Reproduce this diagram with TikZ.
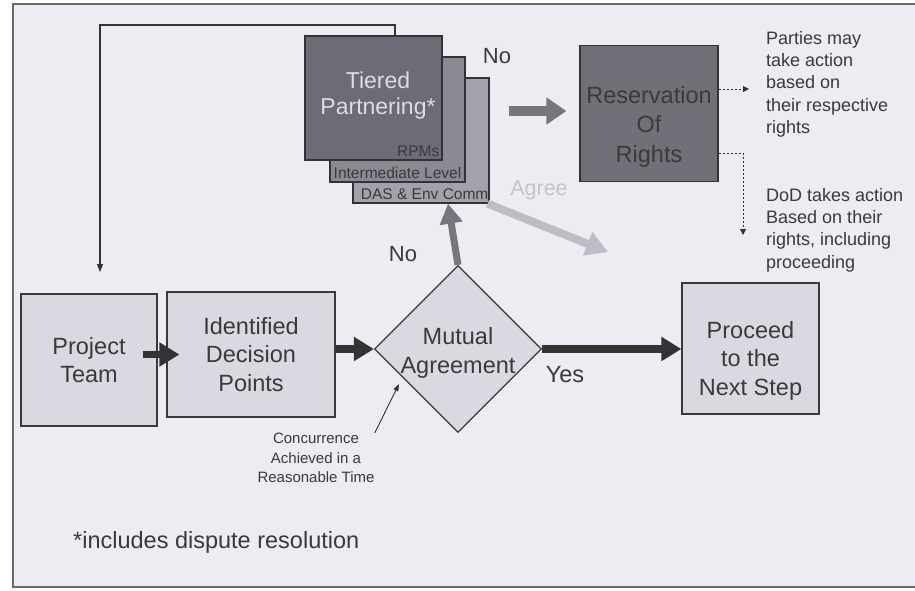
\documentclass[tikz,border=0pt]{standalone}
\usepackage{fontspec}
\setmainfont{Liberation Sans}
\usetikzlibrary{shapes.geometric,arrows.meta}
\definecolor{bgc}{HTML}{ECECF2}
\definecolor{boxfill}{HTML}{D9D9E1}
\definecolor{txt}{HTML}{3A3A3A}
\definecolor{framec}{HTML}{6A6A6A}
\definecolor{frontc}{HTML}{6C6C76}
\definecolor{midc}{HTML}{8A8A94}
\definecolor{backc}{HTML}{A2A2AC}
\definecolor{resc}{HTML}{707078}
\definecolor{adark}{HTML}{333333}
\definecolor{agray}{HTML}{76767E}
\definecolor{alight}{HTML}{BDBDC5}
\definecolor{tlight}{HTML}{DCDCE2}
\definecolor{agreec}{HTML}{C4C4CC}
\newcommand\fsbig{\fontsize{23.5}{28.5}\selectfont}
\newcommand\fsmed{\fontsize{18}{22.3}\selectfont}
\newcommand\fssmall{\fontsize{15.5}{19}\selectfont}
\newcommand\fsnote{\fontsize{15}{19.5}\selectfont}
\begin{document}
\begin{tikzpicture}[x=1pt,y=-1pt,
  lbox/.style={draw=txt, line width=1.2pt, fill=boxfill, text=txt, font=\fsbig, align=center, inner sep=0pt},
  dbox/.style={diamond, aspect=1, draw=txt, line width=1.2pt, fill=boxfill, inner sep=0pt, minimum width=167pt, minimum height=167pt},
  stackbox/.style={draw=adark, line width=1.2pt, inner sep=0pt},
  resbox/.style={draw=adark, line width=1.2pt, fill=resc, inner sep=0pt},
  ltext/.style={text=txt, font=\fsbig, align=center, inner sep=0pt},
  stxt/.style={text=txt, font=\fssmall, inner xsep=3pt, inner ysep=4pt},
  bigdark/.style={draw=adark, line width=7.5pt, -{Triangle[length=20pt,width=23pt]}},
  biggray/.style={draw=agray, line width=7pt, -{Triangle[length=20pt,width=22pt]}},
  bigtier/.style={draw=agray, line width=9.5pt, -{Triangle[length=20pt,width=26pt]}},
  biglight/.style={draw=alight, line width=8pt, -{Triangle[length=22pt,width=24pt]}},
  thinarrow/.style={draw=adark, line width=1.1pt, -{Triangle[length=8pt,width=6pt]}},
  dotarrow/.style={draw=adark, line width=1pt, dash pattern=on 2pt off 2pt, -{Triangle[length=6pt,width=6pt]}}
]
\useasboundingbox (0,0) rectangle (915,590);
\fill[white] (0,0) rectangle (915,590);
\draw[framec, line width=1.3pt, fill=bgc] (13,4) rectangle (930,587);

% main flow
\node[lbox, minimum width=136pt, minimum height=132pt] (pt) at (89,360) {Project\\Team};
\node[lbox, minimum width=168pt, minimum height=125pt] (idp) at (251,354.5) {Identified\\Decision\\Points};
\node[dbox] (dia) at (458,349) {};
\node[ltext] (dialabel) at ([yshift=-4pt]dia.center) {Mutual\\Agreement};
\node[lbox, minimum width=137pt, minimum height=131pt] (nxt) at (750.5,348.5) {};
\node[ltext] (nxtlabel) at ([yshift=-12pt]nxt.center) {Proceed\\to the\\Next Step};

% tiered stack
\node[stackbox, fill=backc, minimum width=136pt, minimum height=125pt] (back) at (421,140.5) {};
\node[stackbox, fill=midc, minimum width=135pt, minimum height=125pt] (mid) at (397.5,119.5) {};
\node[stackbox, fill=frontc, minimum width=137pt, minimum height=124pt] (front) at (373.5,98) {};
\node[ltext, text=tlight, font=\fontsize{23}{26}\selectfont] (tiered) at (378,96) {Tiered\\Partnering*};
\node[stxt, anchor=south east] (rpms) at (front.south east) {RPMs};
\node[stxt, anchor=south] (intl) at (mid.south) {Intermediate Level};
\node[stxt, anchor=south east, inner xsep=1pt] (das) at (back.south east) {DAS \& Env Comm};

% reservation
\node[resbox, minimum width=138pt, minimum height=136pt] (res) at (649,113.5) {};
\node[ltext, font=\fontsize{23.5}{29.5}\selectfont] (reslabel) at ([yshift=-13pt]res.center) {Reservation\\Of\\Rights};

% side texts
\node[text=txt, font=\fsmed, align=left, anchor=north west, inner sep=0pt] (parties) at (766,31)
  {Parties may\\take action\\based on\\their respective\\rights};
\node[text=txt, font=\fsmed, align=left, anchor=north west, inner sep=0pt] (dodtxt) at (766,188)
  {DoD takes action\\Based on their\\rights, including\\proceeding};
\node[text=txt, font=\fsnote, align=center, inner sep=0pt] (conc) at (316,458)
  {Concurrence\\Achieved in a\\Reasonable Time};
\node[text=txt, font=\fsbig, anchor=west, inner sep=0pt] (note) at (73,542) {*includes dispute resolution};

% labels
\node[text=txt, font=\fontsize{22}{26}\selectfont, inner sep=0pt] (notop) at (497,56) {No};
\node[text=txt, font=\fontsize{22}{26}\selectfont, inner sep=0pt] (nolow) at (403,254) {No};
\node[text=agreec, font=\fontsize{21.5}{26}\selectfont, inner sep=0pt] (agree) at (539,190) {Agree};
\node[text=txt, font=\fsbig, inner sep=0pt] (yes) at (565,375) {Yes};

% coordinates for free ends
\coordinate (fbcorner) at (100,25);
\coordinate (fbend) at (100,272);
\coordinate (agreeend) at (608,252);
\coordinate (paend) at (749,89);
\coordinate (dodend) at (743,235);
\coordinate (ctip) at (399,384);

% connectors
\draw[bigdark] ([xshift=-15pt]pt.east |- idp.west) -- ([xshift=13pt]idp.west);
\draw[bigdark] (idp.east |- dia.west) -- (dia.west);
\draw[bigdark] (dia.east) -- (nxt.west |- dia.east);
\draw[biggray] (dia.north) -- ([xshift=27pt]back.south);
\draw[biglight] ([xshift=-2pt]back.south east) -- (agreeend);
\draw[bigtier] ([xshift=19pt]back.east |- 0,111) -- ([xshift=-13pt]res.west |- 0,111);
\draw[thinarrow] ([xshift=21.5pt]front.north) |- (fbcorner) -- (fbend);
\draw[dotarrow] (res.east |- paend) -- (paend);
\draw[dotarrow] ([yshift=-39.5pt]res.east) -| (dodend);
\draw[draw=adark, line width=0.9pt, -{Triangle[length=7pt,width=5pt]}] (conc.north east) -- (ctip);
\end{tikzpicture}
\end{document}
